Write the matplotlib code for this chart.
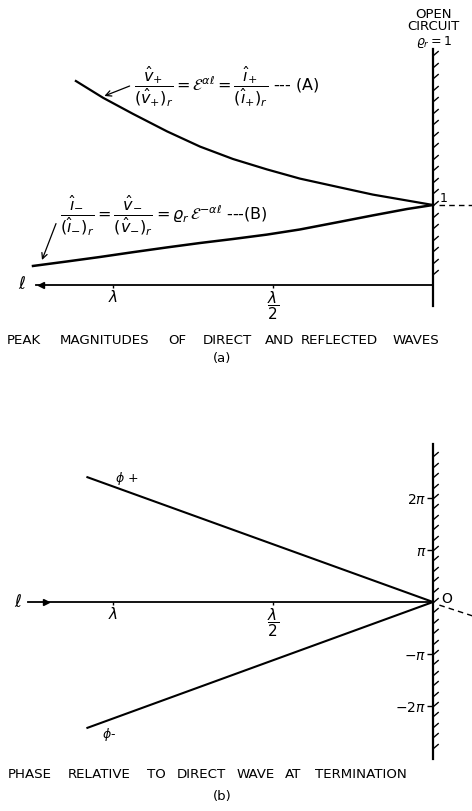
import numpy as np
import matplotlib
matplotlib.use("Agg")
import matplotlib.pyplot as plt
from matplotlib.path import Path

# distance from termination in wavelengths (l / lambda)
mag_pos_u = [1.116, 1.031, 0.938, 0.831, 0.728, 0.625, 0.519, 0.416, 0.291, 0.188, 0.081, 0.0]
mag_pos = [2.55, 2.34, 2.14, 1.92, 1.73, 1.575, 1.445, 1.33, 1.22, 1.13, 1.056, 1.0]
mag_neg_u = [1.25, 1.144, 1.041, 0.938, 0.831, 0.728, 0.625, 0.519, 0.416, 0.291, 0.188, 0.081, 0.0]
mag_neg = [0.238, 0.294, 0.35, 0.41, 0.47, 0.525, 0.575, 0.63, 0.694, 0.79, 0.87, 0.95, 1.0]

# phase in multiples of pi
phase_u = [1.08, 0.0]
phase_pos = [2.40, 0.0]
phase_neg = [-2.42, 0.0]

x_ticks = [1.0, 0.5]
x_labels = [r"$\lambda$", r"$\dfrac{\lambda}{2}$"]
phase_ticks = [2, 1, -1, -2]
phase_labels = [r"$2\pi$", r"$\pi$", r"$-\pi$", r"$-2\pi$"]

W, H = 472, 812
plt.rcParams["mathtext.fontset"] = "dejavusans"
fig = plt.figure(figsize=(W / 100, H / 100), dpi=100)


def fx(px):
    return px / W


def fy(py):
    return 1 - py / H


def words(items, y, size=9.6):
    for w, x in items:
        fig.text(fx(x), fy(y), w, ha="left", va="center", fontsize=size)


hatch = Path([(0, 0), (1, 0.85)], [Path.MOVETO, Path.LINETO])
lw = 1.6

# ---------- (a) peak magnitudes ----------
ax1 = fig.add_axes([0, fy(400), 1, 400 / H])
ax1.set_xlim(433 / 320, -39 / 320)
ax1.set_ylim(-114 / 80, 286 / 80)
ax1.patch.set_visible(False)
for s in ["top", "right"]:
    ax1.spines[s].set_visible(False)
ax1.spines["left"].set_position(("data", 0))
ax1.spines["left"].set_bounds(-0.26, 2.95)
ax1.spines["left"].set_linewidth(lw)
ax1.spines["bottom"].set_position(("data", 0))
ax1.spines["bottom"].set_bounds(0, 1.24)
ax1.spines["bottom"].set_linewidth(1.3)
ax1.set_yticks([])
ax1.set_xticks(x_ticks, x_labels, fontsize=11)
ax1.tick_params(axis="x", direction="out", length=2, width=1, pad=0)

ax1.plot(mag_pos_u, mag_pos, color="black", lw=1.6)
ax1.plot(mag_neg_u, mag_neg, color="black", lw=1.8)
hv = 1 + 0.144 * np.arange(-6, 14)
ax1.plot(np.zeros_like(hv), hv, ls="none", marker=hatch, ms=7.5, mew=1.0,
         mec="black", mfc="none")
ax1.plot([-0.02, -0.125], [1, 1], color="black", lw=1, ls=(0, (4, 3)))
ax1.plot([1.225], [0], marker="<", ms=5, color="black")

ax1.annotate("", xy=(1.035, 2.35), xytext=(0.94, 2.50),
             arrowprops=dict(arrowstyle="->", lw=0.9, color="black"))
ax1.annotate("", xy=(1.225, 0.28), xytext=(1.175, 0.80),
             arrowprops=dict(arrowstyle="->", lw=0.9, color="black"))

fig.text(fx(134), fy(87),
         r"$\dfrac{\hat{v}_{+}}{(\hat{v}_{+})_r}=\mathcal{E}^{\alpha\ell}="
         r"\dfrac{\hat{\imath}_{+}}{(\hat{\imath}_{+})_r}$ --- (A)",
         ha="left", va="center", fontsize=11.5)
fig.text(fx(60), fy(216),
         r"$\dfrac{\hat{\imath}_{-}}{(\hat{\imath}_{-})_r}="
         r"\dfrac{\hat{v}_{-}}{(\hat{v}_{-})_r}=\varrho_r\,\mathcal{E}^{-\alpha\ell}$ ---(B)",
         ha="left", va="center", fontsize=11.5)

fig.text(fx(22), fy(284), r"$\ell$", ha="center", va="center", fontsize=12)
fig.text(fx(440), fy(199), "1", ha="left", va="center", fontsize=9)
fig.text(fx(433), fy(14), "OPEN", ha="center", va="center", fontsize=9.5)
fig.text(fx(433), fy(27), "CIRCUIT", ha="center", va="center", fontsize=9.5)
fig.text(fx(434), fy(42), r"$\varrho_r = 1$", ha="center", va="center", fontsize=9)

words([("PEAK", 7), ("MAGNITUDES", 60), ("OF", 168), ("DIRECT", 203), ("AND", 265),
       ("REFLECTED", 301), ("WAVES", 393)], 340)
fig.text(fx(222), fy(359), "(a)", ha="center", va="center", fontsize=9.5)

# ---------- (b) phase ----------
ax2 = fig.add_axes([0, 0, 1, 402 / H])
ax2.set_xlim(433 / 320, -39 / 320)
ax2.set_ylim(-209 / 52, 193 / 52)
ax2.patch.set_visible(False)
for s in ["top", "right"]:
    ax2.spines[s].set_visible(False)
ax2.spines["left"].set_position(("data", 0))
ax2.spines["left"].set_bounds(-3.02, 3.04)
ax2.spines["left"].set_linewidth(lw)
ax2.spines["bottom"].set_position(("data", 0))
ax2.spines["bottom"].set_bounds(0, 1.265)
ax2.spines["bottom"].set_linewidth(1.3)
ax2.set_yticks(phase_ticks, phase_labels, fontsize=10)
ax2.tick_params(axis="y", direction="out", length=4, width=1, pad=1)
ax2.set_xticks(x_ticks, x_labels, fontsize=11)
ax2.tick_params(axis="x", direction="out", length=2, width=1, pad=0)

ax2.plot(phase_u, phase_pos, color="black", lw=1.5)
ax2.plot(phase_u, phase_neg, color="black", lw=1.5)
hp = 0.2 * np.arange(-14, 15)
ax2.plot(np.zeros_like(hp), hp, ls="none", marker=hatch, ms=7.5, mew=1.0,
         mec="black", mfc="none")
ax2.plot([-0.02, -0.125], [-0.06, -0.27], color="black", lw=1, ls=(0, (4, 3)))
ax2.plot([1.21], [0], marker=">", ms=4, color="black")

fig.text(fx(115), fy(479), r"$\phi$ +", ha="left", va="center", fontsize=9)
fig.text(fx(102), fy(735), r"$\phi$-", ha="left", va="center", fontsize=9)
fig.text(fx(18), fy(602), r"$\ell$", ha="center", va="center", fontsize=12)
fig.text(fx(441), fy(599), "O", ha="left", va="center", fontsize=10)

words([("PHASE", 8), ("RELATIVE", 68), ("TO", 147), ("DIRECT", 177), ("WAVE", 237),
       ("AT", 285), ("TERMINATION", 315)], 775)
fig.text(fx(222), fy(797), "(b)", ha="center", va="center", fontsize=9.5)

fig.savefig("out.png", dpi=100)
